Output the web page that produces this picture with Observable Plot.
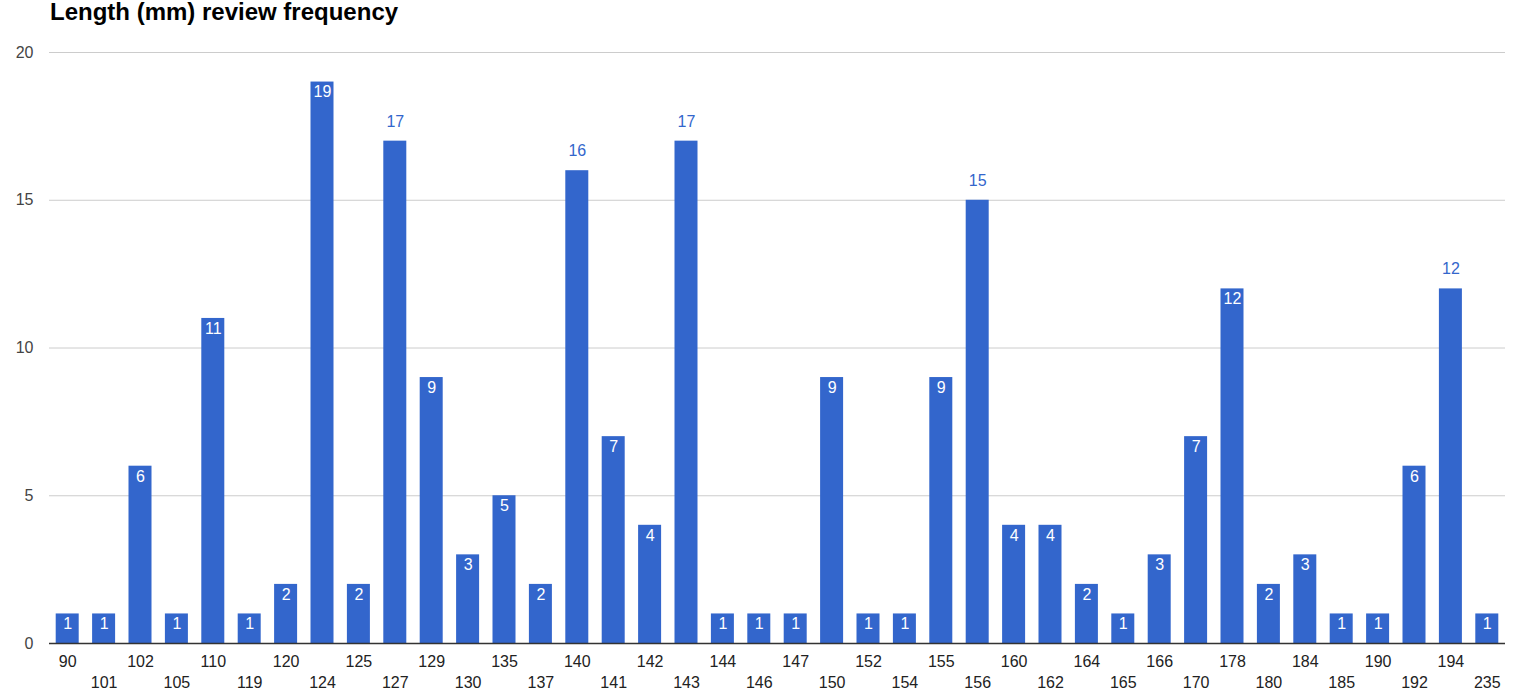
<!DOCTYPE html>
<html>
<head>
<meta charset="utf-8">
<script src="https://cdn.jsdelivr.net/npm/d3@7"></script>
<script src="https://cdn.jsdelivr.net/npm/@observablehq/plot@0.6"></script>
<style>
  body { margin: 0; background: #fff; font-family: "Liberation Sans", Arial, sans-serif; }
  #title { height: 30px; box-sizing: border-box; padding-left: 50px; padding-top: 0px; font-weight: bold; font-size: 24px; color: #000; line-height: 24px; }
  #chart svg text { font-size: 16px; }
</style>
</head>
<body>
<div id="title">Length (mm) review frequency</div>
<div id="chart"></div>
<script>
const lengths = ["90","101","102","105","110","119","120","124","125","127","129","130","135","137","140","141","142","143","144","146","147","150","152","154","155","156","160","162","164","165","166","170","178","180","184","185","190","192","194","235"];
const counts = [1,1,6,1,11,1,2,19,2,17,9,3,5,2,16,7,4,17,1,1,1,9,1,1,9,15,4,4,2,1,3,7,12,2,3,1,1,6,12,1];
const labelsAbove = ["127","140","143","156","194"];
const yTicks = [0,5,10,15,20];

const data = lengths.map((l, i) => ({length: l, count: counts[i]}));
const inside = data.filter(d => !labelsAbove.includes(d.length));
const above = data.filter(d => labelsAbove.includes(d.length));
const rowA = lengths.filter((_, i) => i % 2 === 0);
const rowB = lengths.filter((_, i) => i % 2 === 1);

const W = 1519, ML = 49, MR = 14;
const step = (W - ML - MR) / lengths.length;
const inset = (step - 23) / 2;

const chart = Plot.plot({
  width: W,
  height: 670,
  marginTop: 22,
  marginBottom: 57,
  marginLeft: ML,
  marginRight: MR,
  style: {fontFamily: "'Liberation Sans', Arial, sans-serif", fontSize: "16px", background: "#fff"},
  x: {domain: lengths, padding: 0, round: false, label: null},
  y: {domain: [0, 20], label: null},
  marks: [
    Plot.ruleY(yTicks.filter(t => t > 0), {stroke: "#cccccc", strokeWidth: 1}),
    Plot.barY(data, {x: "length", y: "count", fill: "#3366cc", insetLeft: inset, insetRight: inset}),
    Plot.ruleY([0], {stroke: "#333333", strokeWidth: 1.5}),
    Plot.axisY({ticks: yTicks, tickSize: 0, tickPadding: 16, fontSize: 16, color: "#444", label: null}),
    Plot.axisX({ticks: rowA, tickSize: 0, tickPadding: 12, fontSize: 16, color: "#222", label: null}),
    Plot.axisX({ticks: rowB, tickSize: 0, tickPadding: 33, fontSize: 16, color: "#222", label: null}),
    Plot.text(inside, {x: "length", y: "count", text: d => String(d.count), fill: "#fff", lineAnchor: "top", dy: 4, fontSize: 16}),
    Plot.text(above, {x: "length", y: "count", text: d => String(d.count), fill: "#3366cc", lineAnchor: "bottom", dy: -14.5, fontSize: 16})
  ]
});
document.getElementById("chart").appendChild(chart);
</script>
</body>
</html>
